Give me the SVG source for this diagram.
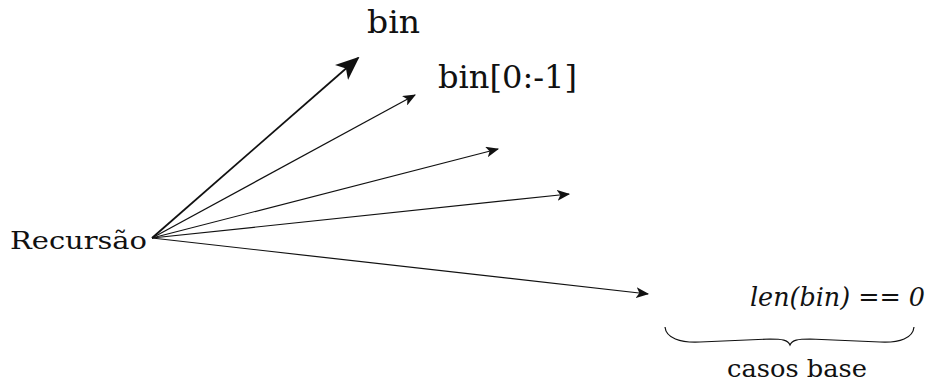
<svg xmlns="http://www.w3.org/2000/svg" width="931" height="385" viewBox="0 0 931 385">
  <style>
    text { font-family: 'DejaVu Serif', 'Liberation Serif', serif; fill: #111; }
    .edge { stroke: #111; fill: none; }
  </style>
  <defs>
    <marker id="head" viewBox="0 0 12 10" refX="11" refY="5" markerWidth="13" markerHeight="11" markerUnits="userSpaceOnUse" orient="auto">
      <path d="M0,0 L12,5 L0,10 L3,5 Z" fill="#111"/>
    </marker>
    <marker id="headBig" viewBox="0 0 12 10" refX="11" refY="5" markerWidth="24" markerHeight="20" markerUnits="userSpaceOnUse" orient="auto">
      <path d="M0,0 L12,5 L0,10 L3,5 Z" fill="#111"/>
    </marker>
  </defs>

  <g id="connectors">
    <line class="edge" x1="152" y1="238" x2="358" y2="58" stroke-width="1.8" marker-end="url(#headBig)"/>
    <line class="edge" x1="152" y1="238" x2="415" y2="95" stroke-width="1.2" marker-end="url(#head)"/>
    <line class="edge" x1="152" y1="238" x2="498" y2="149" stroke-width="1.2" marker-end="url(#head)"/>
    <line class="edge" x1="152" y1="238" x2="569" y2="194" stroke-width="1.2" marker-end="url(#head)"/>
    <line class="edge" x1="152" y1="238" x2="648" y2="294" stroke-width="1.2" marker-end="url(#head)"/>
  </g>

  <g id="recursao">
    <text x="10" y="249" font-size="24" textLength="137" lengthAdjust="spacingAndGlyphs">Recursão</text>
  </g>
  <g id="bin">
    <text x="367" y="33" font-size="32" textLength="53" lengthAdjust="spacingAndGlyphs">bin</text>
  </g>
  <g id="bin-slice">
    <text x="438" y="88" font-size="32" textLength="139" lengthAdjust="spacingAndGlyphs">bin[0:-1]</text>
  </g>
  <g id="base-case">
    <text x="750" y="306" font-size="26" textLength="175" lengthAdjust="spacingAndGlyphs"><tspan font-style="italic">len(bin)</tspan> == <tspan font-style="italic">0</tspan></text>
    <!-- underbrace grouping the base case -->
    <path class="edge" stroke-width="1.2" d="M665,327 C666,338 680,343 700,342 L770,339 C782,339 788,340 790,345 C792,340 798,339 810,339 L880,342 C900,343 913,338 914,327"/>
    <text x="727" y="377" font-size="24" textLength="140" lengthAdjust="spacingAndGlyphs">casos base</text>
  </g>
</svg>
